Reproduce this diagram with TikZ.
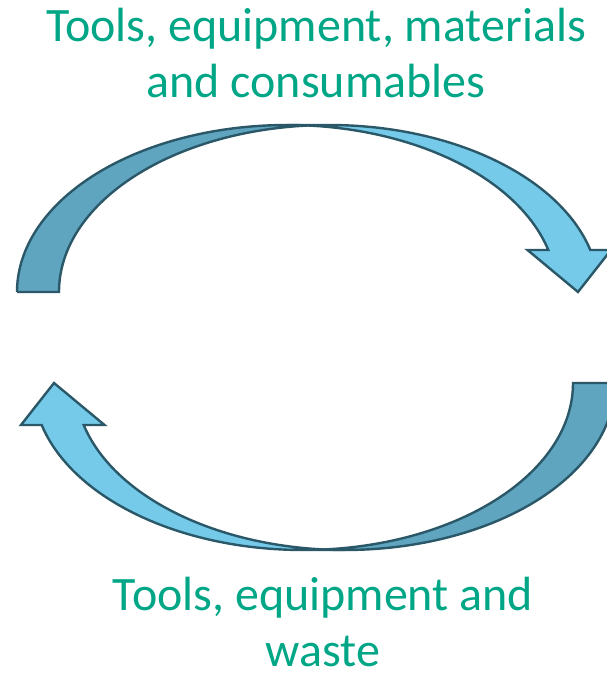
\documentclass[tikz,border=0pt]{standalone}
\usepackage{fontspec}
\setmainfont{Carlito}
\usepackage{xcolor}
\definecolor{labelgreen}{RGB}{0,166,134}
\definecolor{ribbondark}{RGB}{96,165,192}
\definecolor{ribbonlight}{RGB}{117,202,234}
\definecolor{ribbonline}{RGB}{42,88,104}
\tikzset{
    ribbonface/.style={draw=ribbonline, line width=2.4pt},
    cycletext/.style={text=labelgreen, align=center, inner sep=0pt, font=\fontsize{48}{56}\selectfont}
}
\newcommand{\ribbonarrow}{%
    \path[ribbonface, fill=ribbondark] (17,385) -- (59,385)
        arc[start angle=180, end angle=94.46, x radius=270pt, y radius=167pt]
        arc[start angle=85.54, end angle=180, x radius=270pt, y radius=167pt] -- cycle;
    \path[ribbonface, fill=ribbonlight] (578,385) -- (527.5,427) -- (548.3,427)
        arc[start angle=14.57, end angle=90, x radius=270pt, y radius=167pt] -- (329,552)
        arc[start angle=90, end angle=14.57, x radius=270pt, y radius=167pt] -- (611,427) -- cycle;
}

\begin{document}
\begin{tikzpicture}[x=1pt, y=1pt]
    \useasboundingbox (0,0) rectangle (607,677);
    \clip (0,0) rectangle (607,677);

    \ribbonarrow
    \begin{scope}[shift={(632,679)}, rotate=180]
        \ribbonarrow
    \end{scope}

    % anchor=base sits on the last line
    \node[cycletext, anchor=base] (supply) at (316,579) {Tools, equipment, materials\\and consumables};
    \node[cycletext, anchor=base] (returns) at (323,10) {Tools, equipment and\\waste};
\end{tikzpicture}
\end{document}
